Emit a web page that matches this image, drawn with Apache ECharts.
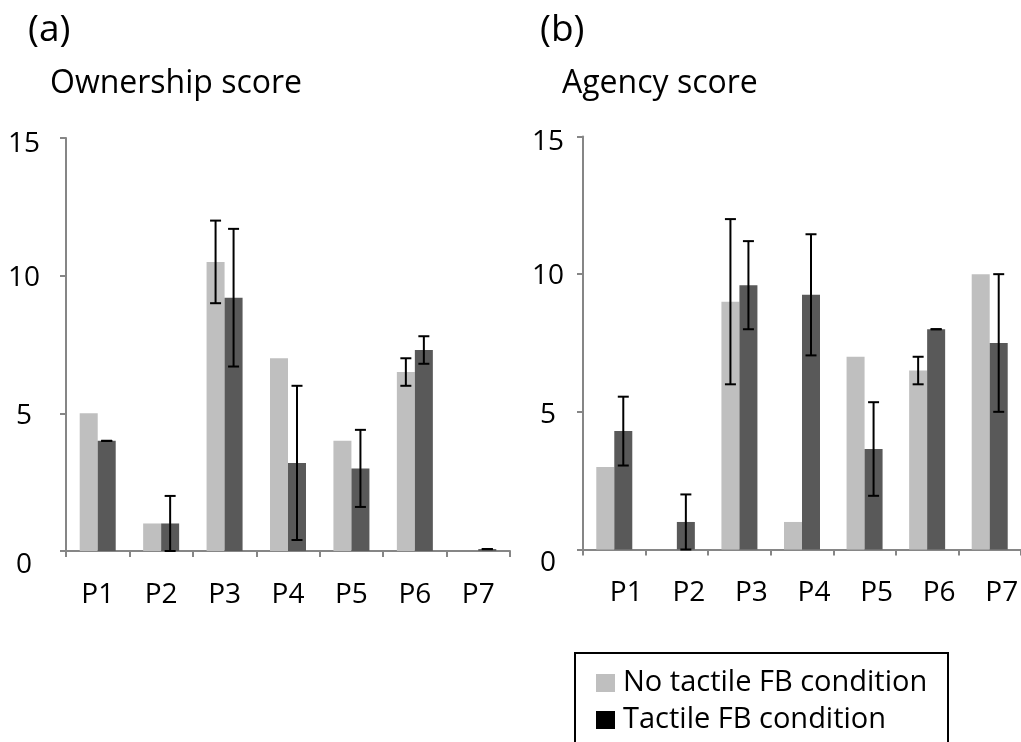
<!DOCTYPE html>
<html>
<head>
<meta charset="utf-8">
<script src="https://cdn.jsdelivr.net/npm/echarts@6/dist/echarts.min.js"></script>
<style>
  html, body { margin: 0; padding: 0; background: #fff; }
  #chart { width: 1021px; height: 742px; }
</style>
</head>
<body>
<div id="chart"></div>
<script>
// Participants and y-axis ticks shared by both panels
const participants = ['P1', 'P2', 'P3', 'P4', 'P5', 'P6', 'P7'];
const yTicks = [0, 5, 10, 15];
const seriesNames = ['No tactile FB condition', 'Tactile FB condition'];

// (a) Ownership score: means and error half-widths (null = no error bar)
const ownNoTactile    = [5, 1, 10.5, 7, 4, 6.5, 0];
const ownNoTactileErr = [null, null, 1.5, null, null, 0.5, null];
const ownTactile      = [4, 1, 9.2, 3.2, 3, 7.3, 0.07];
const ownTactileErr   = [0, 1, 2.5, 2.8, 1.4, 0.5, 0];

// (b) Agency score
const agNoTactile     = [3, 0, 9, 1, 7, 6.5, 10];
const agNoTactileErr  = [null, null, 3, null, null, 0.5, null];
const agTactile       = [4.3, 1, 9.6, 9.25, 3.65, 8, 7.5];
const agTactileErr    = [1.25, 1, 1.6, 2.2, 1.7, 0, 2.5];

const FONT = '"Open Sans", "Noto Sans", sans-serif';
const LIGHT = '#bfbfbf';
const DARK = '#595959';
const AXIS = '#868686';
const BAR_W = 18;
const CAP = 5.5;

// Excel-style tick labels sit a little below their ticks
const labelShift = { 0: 14, 5: 3, 10: 2, 15: 6 };
const yRich = {};
yTicks.forEach(t => {
  yRich['s' + t] = { fontFamily: FONT, fontSize: 28, color: '#000', padding: [labelShift[t] * 2, 0, 0, 0] };
});

function errorItems(values, errs) {
  return values.map((v, i) => errs[i] == null ? null : [i, v, errs[i]]).filter(Boolean);
}

function errorBarRenderer(shift) {
  return function (params, api) {
    const i = api.value(0), v = api.value(1), e = api.value(2);
    const hi = api.coord([i, v + e]);
    const lo = api.coord([i, v - e]);
    const x = hi[0] + shift;
    const style = { stroke: '#000', lineWidth: 2 };
    return {
      type: 'group',
      children: [
        { type: 'line', shape: { x1: x, y1: hi[1], x2: x, y2: lo[1] }, style },
        { type: 'line', shape: { x1: x - CAP, y1: hi[1], x2: x + CAP, y2: hi[1] }, style },
        { type: 'line', shape: { x1: x - CAP, y1: lo[1], x2: x + CAP, y2: lo[1] }, style }
      ]
    };
  };
}

function xAxisFor(gridIndex, labelPadLeft) {
  return {
    type: 'category', gridIndex, data: participants,
    axisLine: { lineStyle: { color: AXIS, width: 2 } },
    axisTick: { show: true, length: 6, lineStyle: { color: AXIS, width: 2 } },
    axisLabel: {
      color: '#000', fontFamily: FONT, fontSize: 28, lineHeight: 30, margin: 29,
      padding: [0, 0, 0, labelPadLeft]
    }
  };
}

function yAxisFor(gridIndex, margin) {
  return {
    type: 'value', gridIndex, min: 0, max: 15, interval: 5,
    splitLine: { show: false },
    axisLine: { show: true, lineStyle: { color: AXIS, width: 2 } },
    axisTick: { show: true, length: 6, lineStyle: { color: AXIS, width: 2 } },
    axisLabel: {
      align: 'center', margin,
      formatter: v => '{s' + v + '|' + v + '}',
      rich: yRich
    }
  };
}

function barSeries(name, axisIndex, data, color) {
  return {
    name, type: 'bar', xAxisIndex: axisIndex, yAxisIndex: axisIndex,
    data, barWidth: BAR_W, barGap: '0%', itemStyle: { color }, z: 2
  };
}

function errSeries(axisIndex, values, errs, shift) {
  return {
    type: 'custom', xAxisIndex: axisIndex, yAxisIndex: axisIndex,
    data: errorItems(values, errs), encode: { x: 0, y: 1 },
    renderItem: errorBarRenderer(shift), z: 5, silent: true
  };
}

const chart = echarts.init(document.getElementById('chart'));
chart.setOption({
  animation: false,
  backgroundColor: '#fff',
  grid: [
    { left: 66, top: 138, width: 444, height: 413 },
    { left: 583, top: 136.5, width: 444, height: 413 }
  ],
  xAxis: [xAxisFor(0, 0), xAxisFor(1, 24)],
  yAxis: [yAxisFor(0, 42), yAxisFor(1, 35)],
  legend: {
    orient: 'vertical', left: 596, top: 666, padding: 0, itemGap: 3,
    itemWidth: 19, itemHeight: 18, icon: 'rect',
    textStyle: { fontFamily: FONT, fontSize: 29, lineHeight: 34, color: '#000', padding: [0, 0, 0, 3] },
    data: [
      { name: seriesNames[0] },
      { name: seriesNames[1], itemStyle: { color: '#000' } }
    ]
  },
  graphic: [
    { type: 'text', x: 28, y: 30, style: { text: '(a)', font: '37px ' + FONT, fill: '#000', verticalAlign: 'middle' } },
    { type: 'text', x: 50, y: 84, style: { text: 'Ownership score', font: '32px ' + FONT, fill: '#000', verticalAlign: 'middle' } },
    { type: 'text', x: 540, y: 30, style: { text: '(b)', font: '37px ' + FONT, fill: '#000', verticalAlign: 'middle' } },
    { type: 'text', x: 562, y: 84, style: { text: 'Agency score', font: '32px ' + FONT, fill: '#000', verticalAlign: 'middle' } },
    { type: 'rect', shape: { x: 575, y: 653, width: 373, height: 120 }, style: { fill: 'none', stroke: '#000', lineWidth: 2 }, z: -1 }
  ],
  series: [
    barSeries(seriesNames[0], 0, ownNoTactile, LIGHT),
    barSeries(seriesNames[1], 0, ownTactile, DARK),
    errSeries(0, ownNoTactile, ownNoTactileErr, -BAR_W / 2),
    errSeries(0, ownTactile, ownTactileErr, BAR_W / 2),
    barSeries(seriesNames[0], 1, agNoTactile, LIGHT),
    barSeries(seriesNames[1], 1, agTactile, DARK),
    errSeries(1, agNoTactile, agNoTactileErr, -BAR_W / 2),
    errSeries(1, agTactile, agTactileErr, BAR_W / 2)
  ]
});
</script>
</body>
</html>
